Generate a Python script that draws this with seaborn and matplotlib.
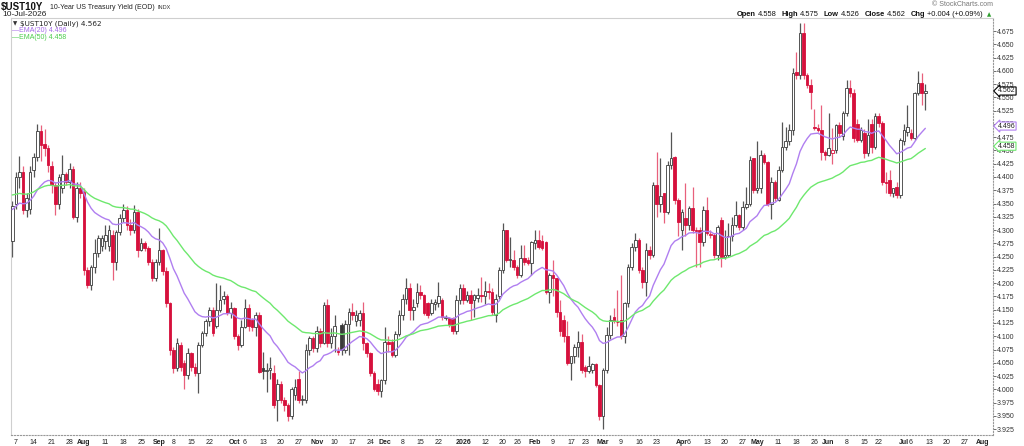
import numpy as np
import pandas as pd
import matplotlib
matplotlib.use('Agg')
import matplotlib.pyplot as plt
import matplotlib.transforms as mtransforms
import seaborn as sns

# daily candles, $UST10Y, 3-Jul-2025 .. 10-Jul-2026
opens = [
    # Jul 2025
    4.280, 4.350, 4.400, 4.410, 4.338, 4.340, 4.413, 4.438, 4.487, 4.462, 4.454, 4.420, 4.385, 4.350,
    4.380, 4.405, 4.390, 4.416, 4.325, 4.380,
    # Aug
    4.372, 4.225, 4.197, 4.230, 4.256, 4.270, 4.280, 4.270, 4.290, 4.240, 4.297, 4.322, 4.338, 4.310,
    4.300, 4.335, 4.263, 4.275, 4.266, 4.240, 4.210,
    # Sep
    4.240, 4.263, 4.222, 4.162, 4.074, 4.040, 4.084, 4.050, 4.027, 4.068, 4.043, 4.030, 4.084, 4.106,
    4.128, 4.150, 4.120, 4.150, 4.170, 4.175, 4.143,
    # Oct
    4.153, 4.100, 4.084, 4.118, 4.153, 4.130, 4.118, 4.140, 4.040, 4.034, 4.037, 4.030, 3.980, 4.010,
    3.980, 3.970, 3.950, 3.990, 4.020, 3.980, 3.980, 4.074, 4.096,
    # Nov
    4.077, 4.109, 4.087, 4.159, 4.087, 4.100, 4.072, 4.121, 4.074, 4.124, 4.146, 4.128, 4.130, 4.143,
    4.087, 4.068, 4.030, 4.010, 3.996,
    # Dec
    4.017, 4.090, 4.090, 4.065, 4.105, 4.140, 4.170, 4.190, 4.150, 4.162, 4.184, 4.178, 4.162, 4.143,
    4.160, 4.162, 4.168, 4.134, 4.134, 4.134, 4.109, 4.168,
    # Jan 2026
    4.190, 4.168, 4.178, 4.168, 4.172, 4.178, 4.175, 4.185, 4.184, 4.140, 4.175, 4.225, 4.300, 4.244,
    4.244, 4.231, 4.216, 4.247, 4.244, 4.238,
    # Feb
    4.275, 4.282, 4.280, 4.278, 4.184, 4.216, 4.209, 4.146, 4.130, 4.100, 4.049, 4.062, 4.080, 4.090,
    4.042, 4.034, 4.036, 4.047, 4.008,
    # Mar
    3.949, 4.037, 4.103, 4.137, 4.126, 4.131, 4.100, 4.162, 4.231, 4.269, 4.281, 4.225, 4.203, 4.263,
    4.253, 4.385, 4.350, 4.369, 4.335, 4.423, 4.437, 4.357,
    # Apr
    4.300, 4.322, 4.310, 4.341, 4.300, 4.300, 4.278, 4.338, 4.290, 4.291, 4.253, 4.319, 4.250, 4.253,
    4.288, 4.310, 4.329, 4.306, 4.344, 4.350, 4.435,
    # May
    4.376, 4.379, 4.442, 4.429, 4.350, 4.390, 4.357, 4.413, 4.457, 4.467, 4.488, 4.597, 4.592, 4.671,
    4.592, 4.573, 4.495, 4.492, 4.488, 4.448,
    # Jun
    4.442, 4.445, 4.451, 4.498, 4.478, 4.520, 4.567, 4.558, 4.500, 4.470, 4.482, 4.445, 4.500, 4.457,
    4.514, 4.501, 4.391, 4.394, 4.369, 4.382, 4.366,
    # Jul 2026
    4.467, 4.485, 4.482, 4.473, 4.558, 4.577, 4.558,
]
highs = [
    4.355, 4.410, 4.440, 4.420, 4.370, 4.420, 4.445, 4.500, 4.498, 4.490, 4.460, 4.430, 4.390, 4.405,
    4.442, 4.410, 4.426, 4.420, 4.390, 4.390,
    4.380, 4.230, 4.235, 4.284, 4.290, 4.290, 4.310, 4.310, 4.300, 4.300, 4.330, 4.350, 4.345, 4.320,
    4.347, 4.340, 4.285, 4.280, 4.270, 4.245, 4.245,
    4.303, 4.265, 4.230, 4.165, 4.080, 4.096, 4.090, 4.055, 4.078, 4.070, 4.050, 4.090, 4.110, 4.132,
    4.155, 4.155, 4.200, 4.197, 4.185, 4.180, 4.165,
    4.155, 4.105, 4.130, 4.170, 4.160, 4.135, 4.145, 4.145, 4.070, 4.050, 4.060, 4.045, 4.020, 4.015,
    3.985, 3.975, 4.005, 4.020, 4.035, 3.990, 4.085, 4.100, 4.100,
    4.120, 4.115, 4.165, 4.170, 4.115, 4.140, 4.080, 4.125, 4.130, 4.153, 4.162, 4.150, 4.150, 4.165,
    4.090, 4.070, 4.035, 4.020, 4.020,
    4.118, 4.100, 4.095, 4.110, 4.150, 4.180, 4.210, 4.200, 4.170, 4.200, 4.197, 4.180, 4.165, 4.170,
    4.170, 4.203, 4.172, 4.140, 4.136, 4.136, 4.177, 4.199,
    4.199, 4.185, 4.187, 4.180, 4.190, 4.212, 4.205, 4.200, 4.190, 4.180, 4.230, 4.314, 4.300, 4.287,
    4.263, 4.235, 4.272, 4.272, 4.250, 4.280,
    4.300, 4.300, 4.290, 4.280, 4.220, 4.244, 4.210, 4.168, 4.140, 4.128, 4.060, 4.085, 4.110, 4.105,
    4.045, 4.062, 4.050, 4.050, 4.010,
    4.040, 4.118, 4.140, 4.153, 4.187, 4.215, 4.165, 4.237, 4.275, 4.294, 4.285, 4.230, 4.275, 4.270,
    4.390, 4.447, 4.435, 4.370, 4.430, 4.485, 4.440, 4.360,
    4.340, 4.388, 4.345, 4.382, 4.305, 4.305, 4.345, 4.363, 4.300, 4.295, 4.310, 4.325, 4.300, 4.313,
    4.325, 4.354, 4.330, 4.354, 4.382, 4.440, 4.435,
    4.467, 4.450, 4.445, 4.430, 4.400, 4.395, 4.420, 4.504, 4.495, 4.500, 4.605, 4.636, 4.690, 4.690,
    4.595, 4.585, 4.529, 4.500, 4.535, 4.450,
    4.520, 4.492, 4.500, 4.504, 4.525, 4.583, 4.583, 4.565, 4.510, 4.495, 4.490, 4.510, 4.510, 4.520,
    4.520, 4.505, 4.410, 4.413, 4.380, 4.390, 4.473,
    4.500, 4.535, 4.490, 4.560, 4.600, 4.595, 4.575,
]
lows = [
    4.250, 4.340, 4.380, 4.330, 4.325, 4.330, 4.400, 4.430, 4.430, 4.440, 4.410, 4.370, 4.329, 4.340,
    4.370, 4.385, 4.380, 4.320, 4.316, 4.360,
    4.215, 4.190, 4.187, 4.220, 4.250, 4.260, 4.265, 4.260, 4.206, 4.225, 4.290, 4.315, 4.300, 4.290,
    4.295, 4.250, 4.260, 4.260, 4.235, 4.205, 4.205,
    4.235, 4.215, 4.155, 4.065, 4.030, 4.035, 4.035, 4.000, 4.020, 4.035, 4.025, 3.993, 4.080, 4.100,
    4.120, 4.100, 4.115, 4.145, 4.160, 4.140, 4.135,
    4.095, 4.075, 4.080, 4.115, 4.110, 4.110, 4.100, 4.030, 4.020, 3.995, 4.020, 3.965, 3.940, 3.975,
    3.960, 3.940, 3.945, 3.980, 3.975, 3.970, 3.975, 4.065, 4.070,
    4.070, 4.080, 4.085, 4.080, 4.077, 4.070, 4.065, 4.065, 4.068, 4.065, 4.130, 4.120, 4.120, 4.075,
    4.060, 4.025, 3.997, 3.990, 3.986,
    4.010, 4.070, 4.060, 4.060, 4.100, 4.130, 4.160, 4.130, 4.130, 4.155, 4.170, 4.140, 4.135, 4.140,
    4.150, 4.155, 4.130, 4.130, 4.118, 4.105, 4.105, 4.160,
    4.160, 4.165, 4.130, 4.137, 4.165, 4.165, 4.160, 4.170, 4.140, 4.127, 4.170, 4.220, 4.240, 4.230,
    4.225, 4.210, 4.212, 4.235, 4.235, 4.216,
    4.265, 4.265, 4.262, 4.180, 4.163, 4.175, 4.137, 4.100, 4.090, 4.045, 4.018, 4.050, 4.060, 4.030,
    4.024, 4.030, 4.030, 4.005, 3.942,
    3.925, 4.030, 4.095, 4.125, 4.120, 4.095, 4.087, 4.155, 4.225, 4.260, 4.220, 4.190, 4.175, 4.245,
    4.250, 4.325, 4.335, 4.313, 4.330, 4.415, 4.350, 4.288,
    4.263, 4.288, 4.300, 4.295, 4.231, 4.231, 4.270, 4.290, 4.285, 4.248, 4.244, 4.231, 4.245, 4.250,
    4.280, 4.305, 4.300, 4.300, 4.340, 4.345, 4.370,
    4.370, 4.370, 4.425, 4.345, 4.320, 4.355, 4.355, 4.410, 4.450, 4.460, 4.480, 4.585, 4.585, 4.585,
    4.568, 4.529, 4.488, 4.485, 4.432, 4.432,
    4.440, 4.425, 4.445, 4.475, 4.470, 4.515, 4.550, 4.465, 4.465, 4.465, 4.435, 4.440, 4.445, 4.452,
    4.495, 4.385, 4.370, 4.365, 4.363, 4.360, 4.360,
    4.460, 4.478, 4.470, 4.470, 4.555, 4.535, 4.526,
]
closes = [
    4.345, 4.400, 4.410, 4.338, 4.360, 4.410, 4.438, 4.487, 4.460, 4.454, 4.423, 4.385, 4.350, 4.400,
    4.405, 4.390, 4.416, 4.325, 4.379, 4.370,
    4.225, 4.197, 4.230, 4.256, 4.285, 4.285, 4.290, 4.300, 4.240, 4.297, 4.322, 4.338, 4.310, 4.300,
    4.335, 4.263, 4.275, 4.266, 4.240, 4.210, 4.240,
    4.263, 4.222, 4.162, 4.074, 4.040, 4.087, 4.043, 4.027, 4.068, 4.043, 4.030, 4.084, 4.106, 4.128,
    4.150, 4.106, 4.150, 4.168, 4.175, 4.143, 4.153,
    4.100, 4.084, 4.118, 4.153, 4.120, 4.118, 4.140, 4.033, 4.035, 4.037, 4.040, 3.970, 4.010, 3.980,
    3.970, 3.950, 4.000, 4.005, 3.980, 3.980, 4.074, 4.096, 4.077,
    4.109, 4.087, 4.159, 4.087, 4.100, 4.120, 4.070, 4.074, 4.124, 4.146, 4.140, 4.140, 4.143, 4.087,
    4.068, 4.030, 4.000, 3.996, 4.017,
    4.090, 4.085, 4.065, 4.105, 4.140, 4.170, 4.190, 4.150, 4.155, 4.184, 4.178, 4.143, 4.140, 4.162,
    4.165, 4.175, 4.137, 4.137, 4.121, 4.109, 4.168, 4.190,
    4.168, 4.178, 4.162, 4.178, 4.178, 4.175, 4.185, 4.184, 4.145, 4.170, 4.225, 4.300, 4.244, 4.245,
    4.231, 4.216, 4.247, 4.240, 4.238, 4.278,
    4.282, 4.268, 4.266, 4.184, 4.216, 4.209, 4.146, 4.110, 4.100, 4.049, 4.062, 4.080, 4.090, 4.037,
    4.034, 4.044, 4.047, 4.008, 3.949,
    4.037, 4.103, 4.131, 4.128, 4.127, 4.100, 4.162, 4.231, 4.269, 4.281, 4.225, 4.203, 4.263, 4.253,
    4.385, 4.350, 4.365, 4.335, 4.423, 4.435, 4.357, 4.316,
    4.335, 4.310, 4.341, 4.300, 4.298, 4.278, 4.338, 4.294, 4.292, 4.253, 4.306, 4.250, 4.253, 4.288,
    4.310, 4.328, 4.306, 4.344, 4.350, 4.432, 4.376,
    4.379, 4.442, 4.429, 4.350, 4.390, 4.360, 4.413, 4.457, 4.467, 4.488, 4.595, 4.592, 4.671, 4.592,
    4.573, 4.561, 4.492, 4.488, 4.448, 4.442,
    4.454, 4.451, 4.498, 4.482, 4.520, 4.567, 4.558, 4.473, 4.470, 4.488, 4.445, 4.479, 4.457, 4.514,
    4.501, 4.391, 4.388, 4.369, 4.379, 4.366, 4.470,
    4.488, 4.495, 4.473, 4.558, 4.577, 4.558, 4.562,
]
ema20_start = 4.338
ema50_start = 4.367

holidays = ['2025-07-04', '2025-09-01', '2025-11-27', '2025-12-25', '2026-01-01', '2026-01-19',
            '2026-02-16', '2026-04-03', '2026-05-25', '2026-06-19', '2026-07-03']

tick_dates = ['2025-07-07', '2025-07-14', '2025-07-21', '2025-07-28', '2025-08-01', '2025-08-11',
              '2025-08-18', '2025-08-25', '2025-09-02', '2025-09-08', '2025-09-15', '2025-09-22',
              '2025-10-01', '2025-10-06', '2025-10-13', '2025-10-20', '2025-10-27', '2025-11-03',
              '2025-11-10', '2025-11-17', '2025-11-24', '2025-12-01', '2025-12-08', '2025-12-15',
              '2025-12-22', '2026-01-02', '2026-01-12', '2026-01-20', '2026-01-26', '2026-02-02',
              '2026-02-09', '2026-02-17', '2026-02-23', '2026-03-02', '2026-03-09', '2026-03-16',
              '2026-03-23', '2026-04-01', '2026-04-06', '2026-04-13', '2026-04-20', '2026-04-27',
              '2026-05-01', '2026-05-11', '2026-05-18', '2026-05-26', '2026-06-01', '2026-06-08',
              '2026-06-15', '2026-06-22', '2026-07-01', '2026-07-06', '2026-07-13', '2026-07-20',
              '2026-07-27', '2026-08-03']
tick_text = ['7', '14', '21', '28', 'Aug', '11', '18', '25', 'Sep', '8', '15', '22',
             'Oct', '6', '13', '20', '27', 'Nov', '10', '17', '24', 'Dec', '8', '15',
             '22', '2026', '12', '20', '26', 'Feb', '9', '17', '23', 'Mar', '9', '16',
             '23', 'Apr', '6', '13', '20', '27', 'May', '11', '18', '26', 'Jun', '8',
             '15', '22', 'Jul', '6', '13', '20', '27', 'Aug']

RED = '#d6103c'
RED_WICK = '#e8607c'
BLACK = '#3a3a3a'
PURPLE = '#b07ff0'
GREEN = '#6ee86e'

sns.set_theme(style='white')
plt.rcParams['font.family'] = ['Liberation Sans', 'DejaVu Sans']

cal = pd.bdate_range('2025-07-03', '2026-08-10', freq='C', holidays=holidays)
df = pd.DataFrame({'open': opens, 'high': highs, 'low': lows, 'close': closes})
df['date'] = cal[:len(df)]
df['x'] = np.arange(len(df))
pos = {d.strftime('%Y-%m-%d'): i for i, d in enumerate(cal)}

prev = df['close'].shift(1).fillna(df['open'])
df['up'] = df['close'] >= prev
df['filled'] = df['close'] < df['open']
df['ema20'] = pd.Series([ema20_start] + closes).ewm(span=20, adjust=False).mean().iloc[1:].values
df['ema50'] = pd.Series([ema50_start] + closes).ewm(span=50, adjust=False).mean().iloc[1:].values

W, H = 1024, 446
fig = plt.figure(figsize=(W / 100, H / 100), dpi=100)
ax = fig.add_axes([10.5 / W, 11 / H, (993 - 10.5) / W, (435 - 18) / H])

line_col = np.where(df['up'], BLACK, RED)
wick_col = np.where(df['up'], '#555555', RED_WICK)
face_col = np.where(df['filled'], line_col, 'white')
body_lo = df[['open', 'close']].min(axis=1)
body_h = (df['close'] - df['open']).abs().clip(lower=0.0012)

ax.vlines(df['x'], df['low'], df['high'], colors=wick_col, linewidth=0.9, zorder=2)
ax.bar(df['x'], body_h, bottom=body_lo, width=0.72, color=face_col,
       edgecolor=line_col, linewidth=0.6, zorder=3)

sns.lineplot(x=df['x'], y=df['ema20'], color=PURPLE, linewidth=1.0, ax=ax, zorder=4)
sns.lineplot(x=df['x'], y=df['ema50'], color=GREEN, linewidth=1.0, ax=ax, zorder=4)

ax.set_xlim(-0.5, 273.9)
ax.set_ylim(3.914, 4.6995)
ax.set_xlabel('')
ax.set_ylabel('')

# x axis: trading-day index, labels at week / month starts
ax.set_xticks([pos[d] for d in tick_dates])
ax.set_xticklabels(tick_text, fontsize=5)
for lab in ax.get_xticklabels():
    if not lab.get_text().isdigit() or len(lab.get_text()) == 4:
        lab.set_fontweight('bold')
ax.tick_params(axis='x', length=0, pad=3, colors='#222222')

yt = np.arange(3.925, 4.676, 0.025)
ax.yaxis.tick_right()
ax.set_yticks(yt)
ax.set_yticklabels([f'{v:.3f}' for v in yt], fontsize=5)
ax.tick_params(axis='y', length=2, width=0.5, pad=1, colors='#333333')

for s in ['left', 'top']:
    ax.spines[s].set_color('#cfcfcf')
    ax.spines[s].set_linewidth(0.8)
for s in ['right', 'bottom']:
    ax.spines[s].set_color('#999999')
    ax.spines[s].set_linestyle(':')
    ax.spines[s].set_linewidth(0.8)
ax.grid(False)

# value tags on the right axis
tr = mtransforms.blended_transform_factory(ax.transAxes, ax.transData)
for val, txt, col in [(4.562, '4.562', 'black'), (4.496, '4.496', PURPLE), (4.458, '4.458', GREEN)]:
    ax.text(1.005, val, txt, transform=tr, fontsize=5, va='center', ha='left', color='#222222',
            bbox=dict(boxstyle='larrow,pad=0.08', fc='white', ec=col, lw=0.8), zorder=6, clip_on=False)

# header
def px(x, y):
    return x / W, 1 - y / H

fig.text(*px(1, 7), '$UST10Y', fontsize=7, fontweight='bold', va='center', color='#111111')
fig.text(*px(50, 7.5), '10-Year US Treasury Yield (EOD)', fontsize=5, va='center', color='#222222')
fig.text(*px(158, 7.5), 'INDX', fontsize=4, va='center', color='#333333')
fig.text(*px(2, 15), '10-Jul-2026', fontsize=6, va='center', color='#222222')

fig.text(*px(13, 24), '\u25bc', fontsize=4, va='center', color='#333333', family='DejaVu Sans')
fig.text(*px(20, 24), '$UST10Y (Daily) 4.562', fontsize=5.2, va='center', color='#222222',
         family='DejaVu Sans')
fig.text(*px(12, 30.5), '\u2014EMA(20) 4.496', fontsize=5, va='center', color='#a66ae8')
fig.text(*px(12, 37.5), '\u2014EMA(50) 4.458', fontsize=5, va='center', color='#4ccc4c')

fig.text(*px(993, 5), '\u00a9 StockCharts.com', fontsize=5, va='center', ha='right', color='#777777')

parts = [('Open', 'bold'), ('4.558', 'normal'), ('High', 'bold'), ('4.575', 'normal'),
         ('Low', 'bold'), ('4.526', 'normal'), ('Close', 'bold'), ('4.562', 'normal'),
         ('Chg', 'bold'), ('+0.004 (+0.09%)', 'normal')]
renderer = fig.canvas.get_renderer()
objs = []
for s, w in parts:
    t = fig.text(0, 1 - 14.5 / H, s, fontsize=5.4, fontweight=w, va='center', color='#111111')
    objs.append((t, t.get_window_extent(renderer).width, w))
gap_in, gap_out = 2.0, 5.0
total = sum(o[1] for o in objs) + gap_in * 5 + gap_out * 4 + 8
x = 991 - total
for k, (t, wd, w) in enumerate(objs):
    t.set_x(x / W)
    x += wd + (gap_in if w == 'bold' else gap_out)
fig.text(*px(x - 1, 14.5), '\u25b2', fontsize=4, va='center', color='#2e9e2e', family='DejaVu Sans')

fig.savefig('out.png', dpi=100)
